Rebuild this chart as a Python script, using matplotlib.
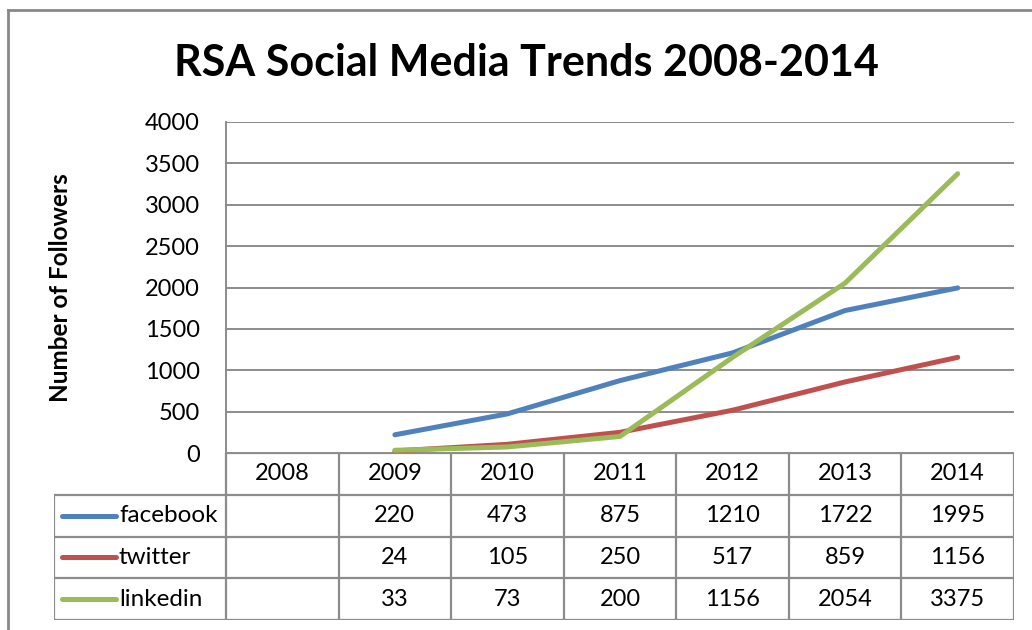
import matplotlib.pyplot as plt
from matplotlib.lines import Line2D

# data
years = ['2008', '2009', '2010', '2011', '2012', '2013', '2014']
facebook = [None, 220, 473, 875, 1210, 1722, 1995]
twitter = [None, 24, 105, 250, 517, 859, 1156]
linkedin = [None, 33, 73, 200, 1156, 2054, 3375]

series_names = ['facebook', 'twitter', 'linkedin']
series_values = [facebook, twitter, linkedin]
series_colors = ['#4F81BD', '#C0504D', '#9BBB59']

GRID_COLOR = '#8C8C8C'
LINE_WIDTH = 3.6
FONT = 'Lato'
TEXT_SIZE = 17

plt.rcParams['font.family'] = [FONT, 'DejaVu Sans']

W, H = 1032, 630
fig = plt.figure(figsize=(W / 100, H / 100), dpi=100)


def px_box(x0, y0, x1, y1):
    return [x0 / W, 1 - y1 / H, (x1 - x0) / W, (y1 - y0) / H]


# outer chart frame (only top and left edges are inside the picture)
fig.lines.append(Line2D([8 / W, 8 / W], [0, 1 - 10 / H], transform=fig.transFigure,
                        color='#888888', linewidth=2))
fig.lines.append(Line2D([8 / W, 1], [1 - 10 / H, 1 - 10 / H], transform=fig.transFigure,
                        color='#888888', linewidth=2))

# plot area
ax = fig.add_axes(px_box(226, 122, 1014, 453))
for name, vals, col in zip(series_names, series_values, series_colors):
    xs = [i + 0.5 for i, v in enumerate(vals) if v is not None]
    ys = [v for v in vals if v is not None]
    ax.plot(xs, ys, color=col, linewidth=LINE_WIDTH, solid_capstyle='round', label=name)

ax.set_xlim(0, len(years))
ax.set_ylim(0, 4000)
ax.set_yticks(range(0, 4001, 500))
ax.set_xticks([])
ax.grid(axis='y', color=GRID_COLOR, linewidth=1.4)
ax.set_axisbelow(True)
for side in ['top', 'right', 'bottom']:
    ax.spines[side].set_visible(False)
ax.spines['left'].set_color(GRID_COLOR)
ax.spines['left'].set_linewidth(1.4)
ax.tick_params(axis='y', length=0, pad=19, labelsize=TEXT_SIZE)

fig.text(526 / W, 1 - 63 / H, 'RSA Social Media Trends 2008-2014', ha='center', va='center',
         fontsize=31, fontweight='bold')
fig.text(60 / W, 1 - 288 / H, 'Number of Followers', ha='center', va='center', rotation=90,
         fontsize=17.5, fontweight='bold')

# data table under the plot
tab = fig.add_axes(px_box(54, 453, 1014, 620))
col_w = (1014 - 226) / len(years)
label_w = (226 - 54) / col_w
tab.set_xlim(-label_w, len(years))
tab.set_ylim(4, 0)
tab.axis('off')

lw = 1.6
# horizontal lines
tab.plot([0, len(years)], [0, 0], color=GRID_COLOR, linewidth=lw)
for r in range(1, 5):
    tab.plot([-label_w, len(years)], [r, r], color=GRID_COLOR, linewidth=lw)
# vertical lines
tab.plot([-label_w, -label_w], [1, 4], color=GRID_COLOR, linewidth=lw)
for c in range(len(years) + 1):
    tab.plot([c, c], [0, 4], color=GRID_COLOR, linewidth=lw)

for i, y in enumerate(years):
    tab.text(i + 0.5, 0.5, y, ha='center', va='center', fontsize=TEXT_SIZE)

for r, (name, vals, col) in enumerate(zip(series_names, series_values, series_colors), start=1):
    x0 = -label_w + 8 / col_w
    x1 = -label_w + 62 / col_w
    tab.plot([x0, x1], [r + 0.5, r + 0.5], color=col, linewidth=LINE_WIDTH, solid_capstyle='round')
    tab.text(x1 + 3 / col_w, r + 0.5, name, ha='left', va='center', fontsize=TEXT_SIZE + 0.5)
    for i, v in enumerate(vals):
        if v is not None:
            tab.text(i + 0.5, r + 0.5, str(v), ha='center', va='center', fontsize=TEXT_SIZE)

fig.savefig('out.png', dpi=100)
